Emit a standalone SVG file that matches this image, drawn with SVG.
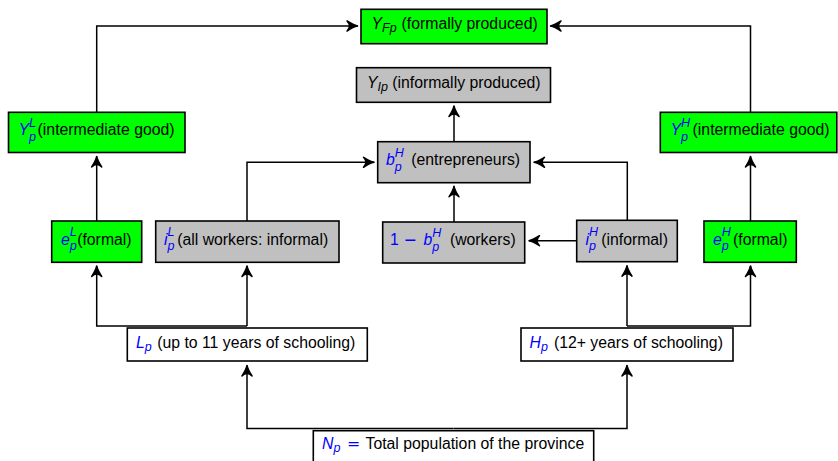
<svg xmlns="http://www.w3.org/2000/svg" width="838" height="461" viewBox="0 0 838 461">
<style>
.box{stroke:#000;stroke-width:1.6}
.g{fill:#00ff00}
.y{fill:#c0c0c0}
.w{fill:#fff}
text{font-family:"Liberation Sans",Arial,sans-serif;font-size:15.8px;fill:#000}
.m{font-style:italic;fill:#0000ff}
.k{font-style:italic;fill:#000}
.s{font-size:12.5px}
.d{font-family:"DejaVu Sans",sans-serif;fill:#0000ff;font-style:normal}
.c{fill:none;stroke:#000;stroke-width:1.5;marker-end:url(#ah)}
</style>
<defs>
<marker id="ah" markerUnits="userSpaceOnUse" markerWidth="16" markerHeight="16" viewBox="-13 -8 16 16" refX="0" refY="0" orient="auto">
<path d="M-10.5,-5 Q-4,-0.8 0,0 Q-4,0.8 -10.5,5 Q-5.5,0 -10.5,-5 Z" fill="#000" stroke="#000" stroke-width="1.5" stroke-linecap="round" stroke-linejoin="round"/>
</marker>
</defs>
<g id="connectors">
<path class="c" d="M96.7,112 V26 H357.5"/>
<path class="c" d="M750.5,112 V26 H550.5"/>
<path class="c" d="M454,141.7 V106"/>
<path class="c" d="M247,221 V162.3 H374"/>
<path class="c" d="M627.3,220.3 V162.3 H534"/>
<path class="c" d="M454,222 V186.3"/>
<path class="c" d="M576.7,240.7 H529"/>
<path class="c" d="M96.7,221 V156.5"/>
<path class="c" d="M750.5,221 V156.5"/>
<path class="c" d="M247,326 V266"/>
<path class="c" d="M247,326 H96.7 V266"/>
<path class="c" d="M627,326 V265.7"/>
<path class="c" d="M627,326 H750.5 V266"/>
<path class="c" d="M453.5,428.5 H247 V365.5"/>
<path class="c" d="M453.5,428.5 H627 V365.5"/>
</g>
<g id="YFp">
<rect class="box g" x="361" y="9.3" width="186" height="34.4"/>
<text class="k" x="371.5" y="29">Y</text>
<text class="k s" x="382.1" y="32">Fp</text>
<text x="401.6" y="29">(formally produced)</text>
</g>
<g id="YIp">
<rect class="box y" x="356.5" y="67.7" width="194" height="34.6"/>
<text class="k" x="367" y="87.5">Y</text>
<text class="k s" x="377.6" y="90.5">Ip</text>
<text x="392.2" y="87.5">(informally produced)</text>
</g>
<g id="YLp">
<rect class="box g" x="8.5" y="112.3" width="176.5" height="40.2"/>
<text class="m" x="18.5" y="135.3">Y</text>
<text class="m s" x="29.1" y="127">L</text>
<text class="m s" x="29.1" y="141">p</text>
<text x="37.6" y="135.3">(intermediate good)</text>
</g>
<g id="YHp">
<rect class="box g" x="660.3" y="112.3" width="176.5" height="40.2"/>
<text class="m" x="670.5" y="135.3">Y</text>
<text class="m s" x="681.1" y="127">H</text>
<text class="m s" x="681.1" y="141">p</text>
<text x="692.6" y="135.3">(intermediate good)</text>
</g>
<g id="bHp">
<rect class="box y" x="377.7" y="141.7" width="152.3" height="41"/>
<text class="m" x="386" y="165.2">b</text>
<text class="m s" x="394.8" y="156.9">H</text>
<text class="m s" x="394.8" y="170.9">p</text>
<text x="411.2" y="165.2">(entrepreneurs)</text>
</g>
<g id="eLp">
<rect class="box g" x="51.7" y="221" width="90" height="41.3"/>
<text class="m" x="61" y="244.5">e</text>
<text class="m s" x="69.8" y="236.2">L</text>
<text class="m s" x="69.8" y="250.2">p</text>
<text x="77.2" y="244.5">(formal)</text>
</g>
<g id="iLp">
<rect class="box y" x="155.7" y="221" width="183.3" height="41.3"/>
<text class="m" x="164" y="244.5">i</text>
<text class="m s" x="167.6" y="236.2">L</text>
<text class="m s" x="167.6" y="250.2">p</text>
<text x="177.2" y="244.5">(all workers: informal)</text>
</g>
<g id="workers">
<rect class="box y" x="382.7" y="222" width="142" height="41"/>
<text class="m" x="390" y="245" style="font-style:normal">1</text>
<text class="d" x="403.5" y="245">−</text>
<text class="m" x="423.5" y="245">b</text>
<text class="m s" x="432.3" y="236.7">H</text>
<text class="m s" x="432.3" y="250.7">p</text>
<text x="449.9" y="245">(workers)</text>
</g>
<g id="iHp">
<rect class="box y" x="576.7" y="220.3" width="100.6" height="41.4"/>
<text class="m" x="585.5" y="244.5">i</text>
<text class="m s" x="589.1" y="236.2">H</text>
<text class="m s" x="589.1" y="250.2">p</text>
<text x="601.2" y="244.5">(informal)</text>
</g>
<g id="eHp">
<rect class="box g" x="704" y="221" width="92.3" height="41.3"/>
<text class="m" x="713" y="244.5">e</text>
<text class="m s" x="721.8" y="236.2">H</text>
<text class="m s" x="721.8" y="250.2">p</text>
<text x="733" y="244.5">(formal)</text>
</g>
<g id="Lp">
<rect class="box w" x="127.3" y="328" width="240" height="33"/>
<text class="m" x="136" y="348">L</text>
<text class="m s" x="144.8" y="351">p</text>
<text x="157.2" y="348">(up to 11 years of schooling)</text>
</g>
<g id="Hp">
<rect class="box w" x="521" y="328" width="212" height="33"/>
<text class="m" x="529.5" y="348">H</text>
<text class="m s" x="540.9" y="351">p</text>
<text x="553.9" y="348">(12+ years of schooling)</text>
</g>
<g id="Np">
<rect class="box w" x="313.3" y="430.7" width="280.4" height="34"/>
<text class="m" x="322" y="449">N</text>
<text class="m s" x="333.4" y="452">p</text>
<text class="d" x="347" y="449">=</text>
<text x="365.5" y="449">Total population of the province</text>
</g>
</svg>
